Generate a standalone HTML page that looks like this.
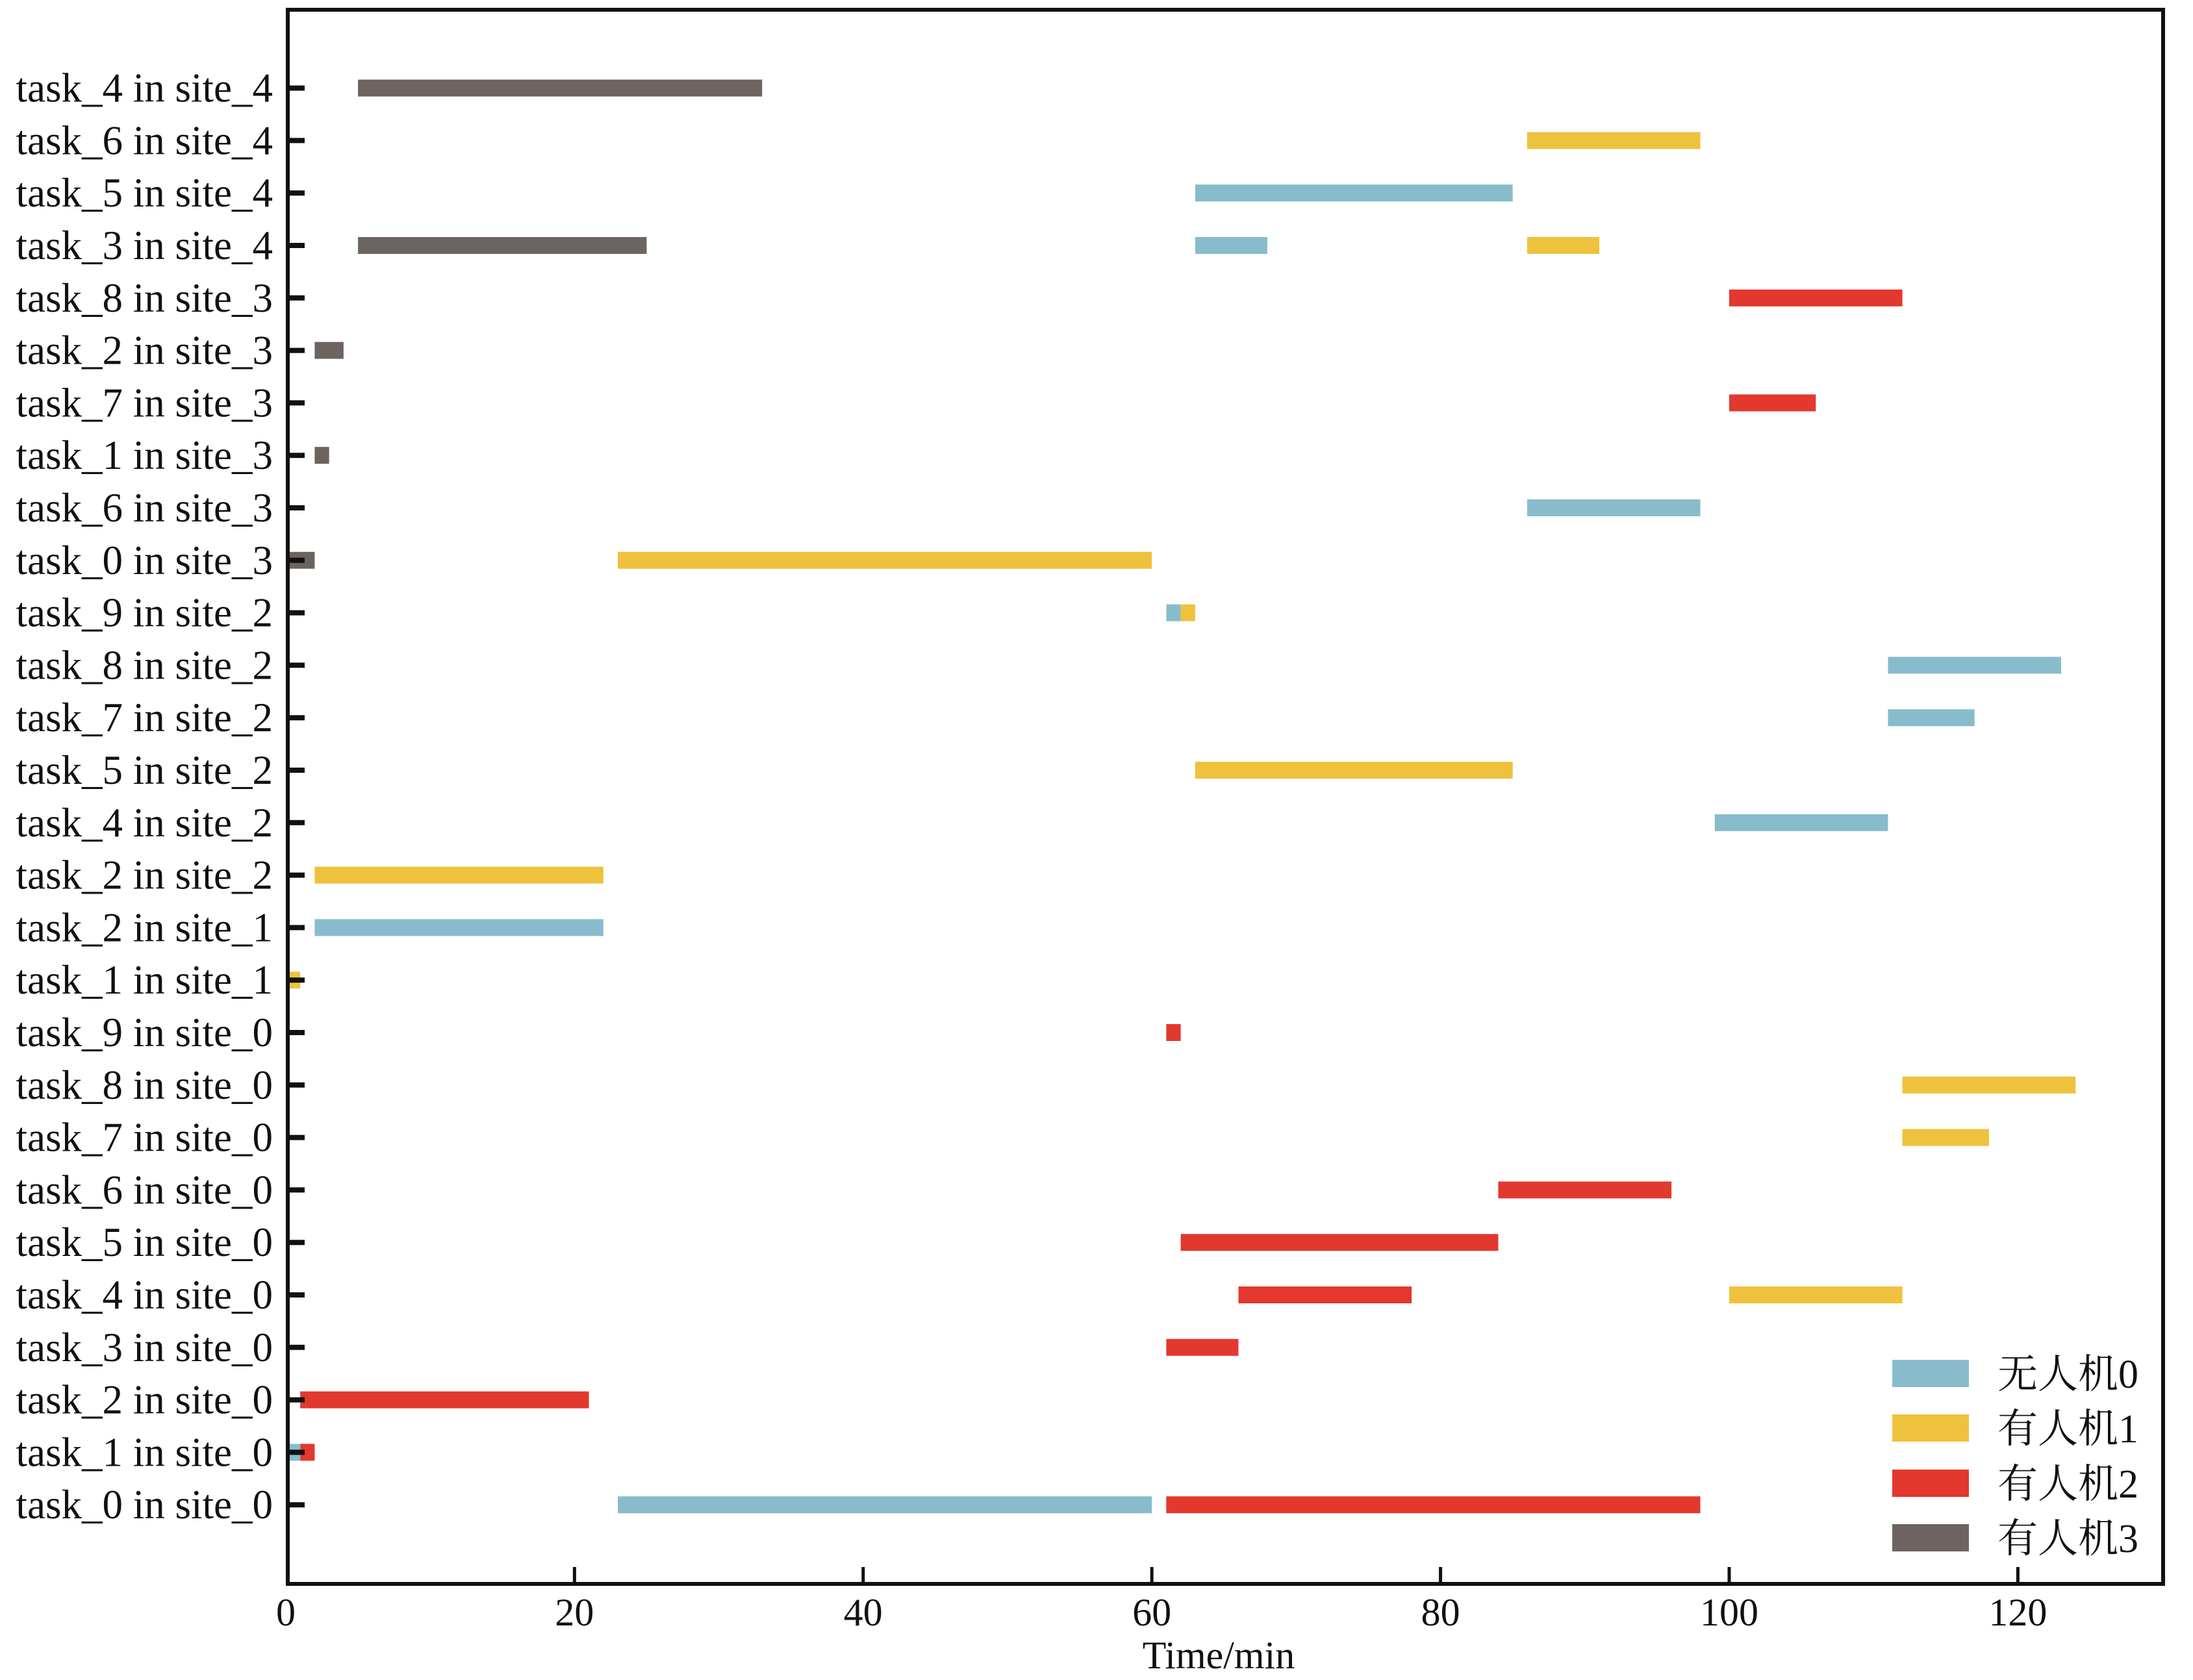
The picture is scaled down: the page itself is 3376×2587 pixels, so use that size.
<!DOCTYPE html>
<html><head><meta charset="utf-8"><style>html,body{margin:0;padding:0;background:#fff}svg{display:block}</style></head><body>
<svg width="3376" height="2587" viewBox="0 0 3376 2587" xmlns="http://www.w3.org/2000/svg">
<rect width="3376" height="2587" fill="#fff"/>
<g transform="translate(440,0) scale(22.22,1)">
<g fill="#6d6461">
<rect x="5" y="122.6" width="28" height="26"/>
<rect x="5" y="365" width="20" height="26"/>
<rect x="2" y="526.6" width="2" height="26"/>
<rect x="2" y="688.2" width="1" height="26"/>
<rect x="0" y="849.8" width="2" height="26"/>
</g>
<g fill="#eec23d">
<rect x="86" y="203.4" width="12" height="26"/>
<rect x="86" y="365" width="5" height="26"/>
<rect x="23" y="849.8" width="37" height="26"/>
<rect x="62" y="930.6" width="1" height="26"/>
<rect x="63" y="1173" width="22" height="26"/>
<rect x="2" y="1334.6" width="20" height="26"/>
<rect x="0" y="1496.2" width="1" height="26"/>
<rect x="112" y="1657.8" width="12" height="26"/>
<rect x="112" y="1738.6" width="6" height="26"/>
<rect x="100" y="1981" width="12" height="26"/>
</g>
<g fill="#88bccd">
<rect x="63" y="284.2" width="22" height="26"/>
<rect x="63" y="365" width="5" height="26"/>
<rect x="86" y="769" width="12" height="26"/>
<rect x="61" y="930.6" width="1" height="26"/>
<rect x="111" y="1011.4" width="12" height="26"/>
<rect x="111" y="1092.2" width="6" height="26"/>
<rect x="99" y="1253.8" width="12" height="26"/>
<rect x="2" y="1415.4" width="20" height="26"/>
<rect x="0" y="2223.4" width="1" height="26"/>
<rect x="23" y="2304.2" width="37" height="26"/>
</g>
<g fill="#e3382e">
<rect x="100" y="445.8" width="12" height="26"/>
<rect x="100" y="607.4" width="6" height="26"/>
<rect x="61" y="1577" width="1" height="26"/>
<rect x="84" y="1819.4" width="12" height="26"/>
<rect x="62" y="1900.2" width="22" height="26"/>
<rect x="66" y="1981" width="12" height="26"/>
<rect x="61" y="2061.8" width="5" height="26"/>
<rect x="1" y="2142.6" width="20" height="26"/>
<rect x="1" y="2223.4" width="1" height="26"/>
<rect x="61" y="2304.2" width="37" height="26"/>
</g>
</g>
<rect x="443" y="15" width="2887" height="2424" fill="none" stroke="#111" stroke-width="6"/>
<g stroke="#111" stroke-width="5">
<line x1="884.4" y1="2439" x2="884.4" y2="2413"/>
<line x1="1328.8" y1="2439" x2="1328.8" y2="2413"/>
<line x1="1773.2" y1="2439" x2="1773.2" y2="2413"/>
<line x1="2217.6" y1="2439" x2="2217.6" y2="2413"/>
<line x1="2662" y1="2439" x2="2662" y2="2413"/>
<line x1="3106.4" y1="2439" x2="3106.4" y2="2413"/>
</g>
<g stroke="#111" stroke-width="8">
<path d="M440 135.6h29M440 216.4h29M440 297.2h29M440 378h29M440 458.8h29M440 539.6h29M440 620.4h29M440 701.2h29M440 782h29M440 862.8h29M440 943.6h29M440 1024.4h29M440 1105.2h29M440 1186h29M440 1266.8h29M440 1347.6h29M440 1428.4h29M440 1509.2h29M440 1590h29M440 1670.8h29M440 1751.6h29M440 1832.4h29M440 1913.2h29M440 1994h29M440 2074.8h29M440 2155.6h29M440 2236.4h29M440 2317.2h29"/>
</g>
<g font-family="Liberation Serif, serif" font-size="63" fill="#111" text-anchor="end">
<text x="420" y="156.6">task_4 in site_4</text>
<text x="420" y="237.4">task_6 in site_4</text>
<text x="420" y="318.2">task_5 in site_4</text>
<text x="420" y="399">task_3 in site_4</text>
<text x="420" y="479.8">task_8 in site_3</text>
<text x="420" y="560.6">task_2 in site_3</text>
<text x="420" y="641.4">task_7 in site_3</text>
<text x="420" y="722.2">task_1 in site_3</text>
<text x="420" y="803">task_6 in site_3</text>
<text x="420" y="883.8">task_0 in site_3</text>
<text x="420" y="964.6">task_9 in site_2</text>
<text x="420" y="1045.4">task_8 in site_2</text>
<text x="420" y="1126.2">task_7 in site_2</text>
<text x="420" y="1207">task_5 in site_2</text>
<text x="420" y="1287.8">task_4 in site_2</text>
<text x="420" y="1368.6">task_2 in site_2</text>
<text x="420" y="1449.4">task_2 in site_1</text>
<text x="420" y="1530.2">task_1 in site_1</text>
<text x="420" y="1611">task_9 in site_0</text>
<text x="420" y="1691.8">task_8 in site_0</text>
<text x="420" y="1772.6">task_7 in site_0</text>
<text x="420" y="1853.4">task_6 in site_0</text>
<text x="420" y="1934.2">task_5 in site_0</text>
<text x="420" y="2015">task_4 in site_0</text>
<text x="420" y="2095.8">task_3 in site_0</text>
<text x="420" y="2176.6">task_2 in site_0</text>
<text x="420" y="2257.4">task_1 in site_0</text>
<text x="420" y="2338.2">task_0 in site_0</text>
</g>
<g font-family="Liberation Serif, serif" font-size="60" fill="#111" text-anchor="middle">
<text x="440" y="2503">0</text>
<text x="884.4" y="2503">20</text>
<text x="1328.8" y="2503">40</text>
<text x="1773.2" y="2503">60</text>
<text x="2217.6" y="2503">80</text>
<text x="2662" y="2503">100</text>
<text x="3106.4" y="2503">120</text>
<text x="1876" y="2569">Time/min</text>
</g>
<rect x="2913" y="2094" width="118" height="42" fill="#88bccd"/>
<rect x="2913" y="2178" width="118" height="42" fill="#eec23d"/>
<rect x="2913" y="2263" width="118" height="42" fill="#e3382e"/>
<rect x="2913" y="2347" width="118" height="42" fill="#6d6461"/>
<g font-family="Liberation Serif, 'Noto Serif CJK SC', serif" font-size="62" fill="#111">
<text x="3075" y="2137">无人机0</text>
<text x="3075" y="2221">有人机1</text>
<text x="3075" y="2306">有人机2</text>
<text x="3075" y="2390">有人机3</text>
</g>
</svg>
</body></html>
